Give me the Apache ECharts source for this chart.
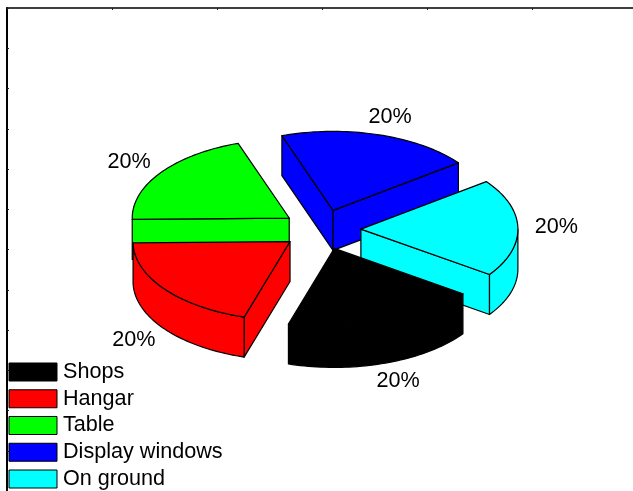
<!DOCTYPE html>
<html>
<head>
<meta charset="utf-8">
<style>html,body{margin:0;padding:0;background:#fff}#c{width:633px;height:491px}</style>
<script src="https://cdn.jsdelivr.net/npm/echarts@6/dist/echarts.min.js"></script>
</head>
<body>
<div id="c"></div>
<script>
var categories = ['Shops', 'Hangar', 'Table', 'Display windows', 'On ground'];
var values = [20, 20, 20, 20, 20];
var sliceLabels = ['20%', '20%', '20%', '20%', '20%'];
var colors = ['#000000', '#ff0000', '#00ff00', '#0000ff', '#00ffff'];

// Pie geometry, in axis units of the frame
var CX = 314.5, CY = 221.5, RX = 157, RY = 79, DEPTH = 40;
var EXPLODE_X = 39.4, EXPLODE_Y = 20, LABEL_X = 235, LABEL_Y = 118, LABEL_SHIFT = 0;
var FIRST_ANGLE = -35; // degrees, slices run clockwise
var FONT = '21.6px "Liberation Sans", Arial, sans-serif';

var total = values.reduce(function (a, b) { return a + b; }, 0);
var rad = Math.PI / 180;
var slices = [];
var cursor = FIRST_ANGLE;
values.forEach(function (v, i) {
  var sweep = v / total * 360;
  var a1 = cursor - sweep, a2 = cursor;
  if (a1 < -180) { a1 += 360; a2 += 360; }
  slices.push({ i: i, a1: a1, a2: a2, mid: (a1 + a2) / 2 });
  cursor -= sweep;
});
var order = slices.slice().sort(function (p, q) {
  return Math.sin(q.mid * rad) - Math.sin(p.mid * rad);
});

function renderSlice(s) {
  return function (params, api) {
    var ox = CX + EXPLODE_X * Math.cos(s.mid * rad);
    var oy = CY - EXPLODE_Y * Math.sin(s.mid * rad);
    function P(a, z) {
      return api.coord([ox + RX * Math.cos(a * rad), oy - RY * Math.sin(a * rad) + z]);
    }
    function C(z) { return api.coord([ox, oy + z]); }
    function arc(from, to, z) {
      var pts = [], n = Math.max(2, Math.ceil(Math.abs(to - from) / 1.5));
      for (var k = 0; k <= n; k++) pts.push(P(from + (to - from) * k / n, z));
      return pts;
    }
    var style = { fill: colors[s.i], stroke: '#000', lineWidth: 1.2, lineJoin: 'round' };
    var children = [];
    function poly(points) {
      children.push({ type: 'polygon', shape: { points: points }, style: style, silent: true });
    }
    if (Math.cos(s.a2 * rad) < 0) poly([C(0), P(s.a2, 0), P(s.a2, DEPTH), C(DEPTH)]);
    if (Math.cos(s.a1 * rad) > 0) poly([C(0), P(s.a1, 0), P(s.a1, DEPTH), C(DEPTH)]);
    // outer wall: only the part of the arc that faces the viewer (south half)
    var wFrom = Math.max(s.a1, -180), wTo = Math.min(s.a2, 0);
    if (wTo > wFrom) poly(arc(wFrom, wTo, 0).concat(arc(wTo, wFrom, DEPTH)));
    poly([C(0)].concat(arc(s.a1, s.a2, 0)));
    var sn = Math.sin(s.mid * rad);
    var lp = api.coord([
      CX + LABEL_X * Math.cos(s.mid * rad),
      CY - LABEL_Y * sn + (sn < 0 ? DEPTH : 0) + LABEL_SHIFT
    ]);
    children.push({
      type: 'text',
      silent: true,
      style: { text: sliceLabels[s.i], x: lp[0], y: lp[1], align: 'center', verticalAlign: 'middle', fill: '#000', font: FONT }
    });
    return { type: 'group', children: children };
  };
}

var chart = echarts.init(document.getElementById('c'), null, { renderer: 'canvas' });
chart.setOption({
  animation: false,
  backgroundColor: '#fff',
  grid: { left: 7, top: 8, width: 626, height: 483, containLabel: false },
  xAxis: {
    type: 'value', position: 'top', min: 0, max: 626, interval: 105,
    axisLine: { show: true, onZero: false, lineStyle: { color: '#000', width: 1.5 } },
    axisTick: { show: true, inside: true, length: 2, lineStyle: { color: '#222' } },
    axisLabel: { show: false }, splitLine: { show: false }
  },
  yAxis: {
    type: 'value', inverse: true, min: 0, max: 483, interval: 40.25,
    axisLine: { show: true, onZero: false, lineStyle: { color: '#000', width: 2 } },
    axisTick: { show: true, inside: true, length: 2, lineStyle: { color: '#222' } },
    axisLabel: { show: false }, splitLine: { show: false }
  },
  legend: {
    show: true, orient: 'vertical', left: 8.5, top: 361, height: 140,
    data: categories, icon: 'rect', itemWidth: 48, itemHeight: 18, itemGap: 4.75, padding: 0,
    selectedMode: false,
    itemStyle: { borderColor: '#000', borderWidth: 1 },
    textStyle: { color: '#000', fontFamily: '"Liberation Sans", Arial, sans-serif', fontSize: 21.6, padding: [2, 0, 0, 1] }
  },
  series: order.map(function (s) {
    return {
      type: 'custom', name: categories[s.i], coordinateSystem: 'cartesian2d', clip: false, silent: true,
      itemStyle: { color: colors[s.i] },
      encode: { x: 0, y: 1 },
      data: [[CX, CY, values[s.i]]],
      renderItem: renderSlice(s)
    };
  })
});
</script>
</body>
</html>
